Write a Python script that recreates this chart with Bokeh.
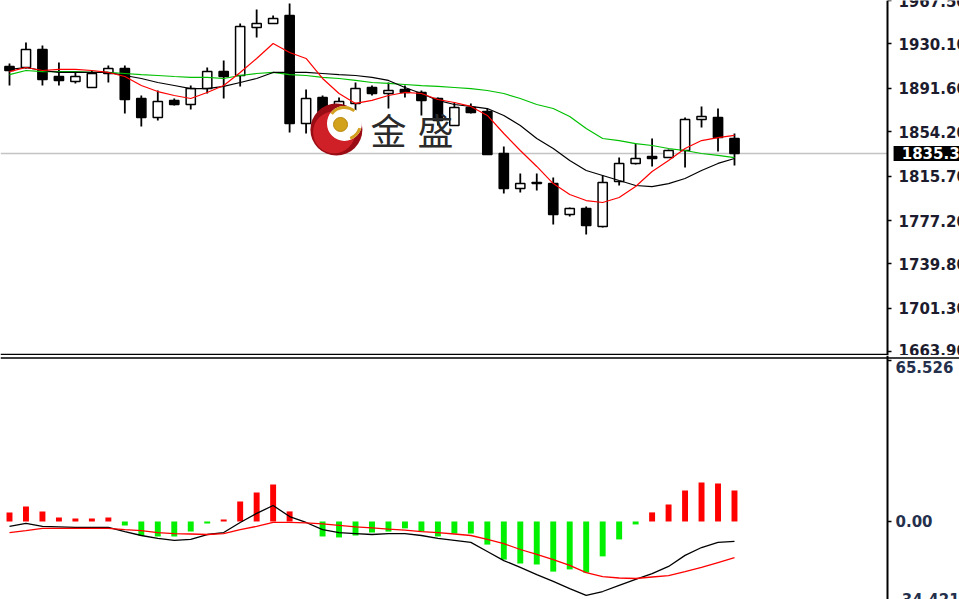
from bokeh.plotting import figure
from bokeh.layouts import column
from bokeh.models import (Range1d, FixedTicker, CustomJSTickFormatter,
                          Span, Label, ColumnDataSource)
from bokeh.core.properties import value
from bokeh.embed import file_html
from bokeh.resources import INLINE

# ---------------- data ----------------
opens = [1910.5, 1909.6, 1925.2, 1901.8, 1897.5, 1892.3, 1904.4, 1908.7, 1882.8, 1866.3,
         1881.1, 1877.6, 1891.4, 1906.1, 1902.7, 1944.2, 1947.7, 1954.6, 1861.2, 1883.7,
         1859.4, 1878.5, 1892.3, 1887.1, 1890.6, 1888.0, 1882.8, 1859.4, 1875.0, 1871.5,
         1835.2, 1804.9, 1809.2, 1809.2, 1782.4, 1787.6, 1772.0, 1811.0, 1826.6, 1832.6,
         1831.7, 1837.8, 1864.6, 1866.3, 1848.2]
highs = [1913.1, 1931.2, 1928.6, 1913.9, 1905.3, 1907.0, 1911.3, 1911.3, 1885.4, 1889.7,
         1882.8, 1894.0, 1909.6, 1915.7, 1947.7, 1959.8, 1954.6, 1965.0, 1890.6, 1885.4,
         1883.7, 1896.6, 1894.0, 1896.6, 1894.0, 1889.7, 1883.7, 1879.3, 1878.5, 1874.1,
         1841.3, 1817.9, 1817.9, 1814.4, 1788.5, 1789.4, 1816.2, 1831.7, 1843.8, 1848.2,
         1838.7, 1866.3, 1875.9, 1874.1, 1852.5]
lows = [1894.0, 1908.7, 1894.0, 1894.0, 1895.8, 1892.3, 1896.6, 1869.8, 1858.6, 1863.7,
        1876.7, 1873.3, 1887.1, 1882.8, 1893.2, 1935.6, 1947.7, 1853.4, 1852.5, 1856.8,
        1855.1, 1872.4, 1885.4, 1874.1, 1883.7, 1868.1, 1859.4, 1859.4, 1869.8, 1834.3,
        1800.6, 1801.5, 1803.2, 1773.8, 1780.7, 1765.1, 1771.2, 1807.5, 1825.7, 1824.0,
        1831.7, 1823.1, 1857.7, 1836.9, 1824.8]
closes = [1907.0, 1925.2, 1899.2, 1898.4, 1901.8, 1904.4, 1908.7, 1881.9, 1866.3, 1880.2,
          1877.6, 1891.4, 1906.1, 1901.8, 1945.1, 1947.7, 1952.0, 1861.2, 1882.8, 1865.5,
          1880.2, 1891.4, 1887.1, 1889.7, 1888.0, 1881.1, 1863.7, 1875.0, 1870.7, 1834.3,
          1804.9, 1809.2, 1810.1, 1782.4, 1787.6, 1772.9, 1810.1, 1826.6, 1830.9, 1830.9,
          1837.8, 1864.6, 1867.2, 1849.0, 1835.3]

ma_red = [1906.1, 1909.6, 1907.0, 1907.9, 1907.9, 1907.0, 1905.3, 1901.8, 1894.0, 1888.8,
          1885.4, 1882.8, 1888.0, 1894.0, 1905.3, 1917.4, 1930.4, 1922.6, 1917.4, 1900.1,
          1887.1, 1878.5, 1881.1, 1885.4, 1888.0, 1887.1, 1881.9, 1879.3, 1875.9, 1868.1,
          1852.5, 1837.8, 1824.0, 1809.2, 1799.7, 1794.5, 1792.8, 1797.1, 1806.6, 1819.6,
          1829.1, 1839.5, 1846.4, 1849.0, 1850.8]
ma_black = [1907.9, 1909.6, 1907.0, 1905.3, 1905.3, 1905.3, 1905.3, 1902.7, 1900.1, 1896.6,
            1894.0, 1891.4, 1891.4, 1893.2, 1896.6, 1900.1, 1905.3, 1905.3, 1905.3, 1904.4,
            1903.5, 1902.7, 1901.0, 1898.4, 1892.3, 1887.1, 1881.1, 1877.6, 1875.9, 1874.1,
            1868.1, 1859.4, 1848.2, 1839.5, 1829.1, 1820.5, 1816.2, 1811.8, 1807.5, 1806.6,
            1809.2, 1813.6, 1820.5, 1826.6, 1830.9]
ma_green = [1903.5, 1907.0, 1906.1, 1906.1, 1906.1, 1905.3, 1905.3, 1904.4, 1903.5, 1902.7,
            1901.8, 1901.0, 1901.0, 1900.1, 1902.7, 1904.4, 1905.3, 1903.5, 1902.7, 1901.0,
            1900.1, 1898.4, 1896.6, 1895.8, 1894.9, 1894.0, 1893.2, 1892.3, 1891.4, 1889.7,
            1887.1, 1882.8, 1877.6, 1874.1, 1867.2, 1856.8, 1848.2, 1846.4, 1843.8, 1842.1,
            1839.5, 1837.8, 1835.2, 1833.5, 1831.7]

macd_hist = [3.7, 6.1, 4.1, 1.6, 1.2, 1.2, 1.6, -1.6, -5.7, -6.1,
             -6.1, -4.1, -0.8, 0.8, 8.1, 11.8, 15.1, 4.1, 0.0, -6.1,
             -6.5, -5.7, -4.5, -4.1, -2.8, -4.1, -6.1, -4.9, -4.9, -9.4,
             -15.5, -17.1, -17.5, -20.4, -19.5, -20.8, -14.2, -7.3, -1.2, 3.7,
             6.9, 12.6, 15.9, 15.5, 12.6]
macd_main = [-2.0, -0.8, -2.0, -2.2, -2.4, -2.4, -2.4, -4.1, -5.7, -6.9,
             -7.7, -7.3, -5.3, -4.5, -0.4, 3.3, 6.5, 2.0, -0.4, -3.3,
             -4.5, -4.9, -5.3, -4.9, -4.9, -5.7, -6.9, -7.7, -8.5, -12.2,
             -15.9, -18.7, -21.6, -24.4, -27.3, -30.1, -28.5, -26.0, -23.6, -21.2,
             -18.3, -13.8, -10.6, -8.5, -8.1]
macd_signal = [-4.5, -3.7, -2.8, -2.8, -2.8, -2.8, -2.8, -3.3, -3.7, -4.5,
               -4.9, -5.1, -5.3, -4.9, -3.3, -2.0, -0.4, -0.4, -0.6, -1.0,
               -1.6, -2.2, -2.6, -3.1, -3.5, -4.1, -4.5, -5.1, -5.7, -7.3,
               -9.0, -11.4, -13.4, -15.5, -17.9, -20.8, -22.4, -23.0, -23.2, -22.6,
               -22.0, -20.4, -18.7, -16.7, -14.7]

price_ticks = [1967.50, 1930.10, 1891.60, 1854.20, 1815.70, 1777.20, 1739.80, 1701.30, 1663.90]
price_top = 1967.50            # top scale value (label drawn at the panel edge)
macd_max = 65.526
macd_ticks = [macd_max, 0.0]
macd_min = -34.421
last_price = 1835.30
last_price_label = "1835.30"
watermark = ["金", "盛"]

# ---------------- layout constants ----------------
n = len(opens)
idx = list(range(n))
X_RANGE = (-0.546, 57.656)      # frame spans the whole page width
AXIS_X = 53.29                  # where the price scale sits
MAIN_LABEL_X = 53.95
MACD_LABEL_X = 53.77
TAG_CENTER_X = 55.84
TAG_TEXT_X = 54.15
FRAME_W = 959
AX_FONT = "DejaVu Sans"
AX_SIZE = "15px"
MAIN_COLOR = "#1c1c2e"
MACD_COLOR = "#24304c"


def style_axis(fig, ticks, formatter, color, standoff):
    ax = fig.yaxis[0]
    ax.fixed_location = AXIS_X
    ax.ticker = FixedTicker(ticks=ticks)
    ax.formatter = formatter
    ax.axis_line_color = "black"
    ax.axis_line_width = 2
    ax.major_tick_line_color = "black"
    ax.major_tick_line_width = 1.5
    ax.major_tick_out = 4
    ax.major_tick_in = 0
    ax.minor_tick_line_color = None
    ax.major_label_standoff = standoff
    ax.major_label_text_font = AX_FONT
    ax.major_label_text_font_size = AX_SIZE
    ax.major_label_text_font_style = "bold"
    ax.major_label_text_color = color
    fig.grid.visible = False


def edge_text(fig, x, y, txt, dy, color):
    fig.text(x=[x], y=[y], text=[txt], y_offset=dy, text_align="left", text_baseline="middle",
             text_font=value(AX_FONT), text_font_size=AX_SIZE, text_font_style="bold",
             text_color=color)


# ---------------- main price panel ----------------
p = figure(frame_width=FRAME_W, frame_height=355,
           x_range=Range1d(*X_RANGE), y_range=Range1d(1660.45, 1967.56),
           x_axis_location=None, y_axis_location="right",
           toolbar_location=None, output_backend="svg",
           min_border_left=0, min_border_right=0, min_border_top=0, min_border_bottom=0,
           outline_line_color=None, background_fill_color="white", border_fill_color="white")
style_axis(p, price_ticks,
           CustomJSTickFormatter(code="return tick > 1960 ? '' : tick.toFixed(2);"),
           MAIN_COLOR, 7)

# bid line and panel bottom border (stop at the price scale)
p.segment(x0=[X_RANGE[0]], y0=[last_price], x1=[AXIS_X], y1=[last_price],
          line_color="#c4c4c4", line_width=1.5, level="underlay")
p.segment(x0=[X_RANGE[0]], y0=[1661.3], x1=[AXIS_X], y1=[1661.3],
          line_color="black", line_width=1.5)

bull = [c >= o for o, c in zip(opens, closes)]
src = ColumnDataSource(dict(
    x=idx, high=highs, low=lows,
    top=[max(o, c) for o, c in zip(opens, closes)],
    bottom=[min(o, c) for o, c in zip(opens, closes)],
    fill=["white" if b else "black" for b in bull],
))
p.segment(x0="x", y0="high", x1="x", y1="low", source=src, line_color="black", line_width=1.8)
p.vbar(x="x", top="top", bottom="bottom", width=0.56, source=src,
       fill_color="fill", line_color="black", line_width=1.5)

p.line(idx, ma_green, line_color="#00c000", line_width=1.2)
p.line(idx, ma_black, line_color="black", line_width=1.2)
p.line(idx, ma_red, line_color="#ff0000", line_width=1.2)

# watermark logo (decoration)
p.scatter(x=[19.84], y=[1855.9], size=52, marker="circle", fill_color="#9a0c14", line_color=None)
p.scatter(x=[19.7], y=[1853.5], size=42, marker="circle", fill_color="#cf2027", line_color=None)
p.scatter(x=[20.33], y=[1861.2], size=35, marker="circle", fill_color="white", line_color=None)
p.arc(x=[20.33], y=[1861.2], radius=16, radius_units="screen", start_angle=0.9, end_angle=2.5,
      line_color="#d4a020", line_width=3)
p.arc(x=[20.33], y=[1861.2], radius=16, radius_units="screen", start_angle=-1.2, end_angle=-0.3,
      line_color="#d4a020", line_width=3)
p.scatter(x=[20.09], y=[1860.3], size=14, marker="circle", fill_color="#d2a21c", line_color="#b8860b")
p.add_layout(Label(x=23.0, y=1856.2, text=watermark[0], text_align="center", text_baseline="middle",
                   text_font="Noto Sans CJK SC", text_font_size="36px", text_color="#2a2a2a"))
p.add_layout(Label(x=25.85, y=1856.2, text=watermark[1], text_align="center", text_baseline="middle",
                   text_font="Noto Sans CJK SC", text_font_size="36px", text_color="#2a2a2a"))

# top scale value, half hidden by the panel edge as in the terminal
edge_text(p, MAIN_LABEL_X, price_top, "%.2f" % price_top, 0, MAIN_COLOR)

# current price tag on the price scale
p.rect(x=[TAG_CENTER_X], y=[last_price], width=72, height=15, width_units="screen",
       height_units="screen", fill_color="black", line_color=None)
edge_text(p, TAG_TEXT_X, last_price, last_price_label, 0, "white")

# ---------------- MACD panel ----------------
q = figure(frame_width=FRAME_W, frame_height=244,
           x_range=p.x_range, y_range=Range1d(-31.75, 67.56),
           x_axis_location=None, y_axis_location="right",
           toolbar_location=None, output_backend="svg",
           min_border_left=0, min_border_right=0, min_border_top=0, min_border_bottom=0,
           outline_line_color=None, background_fill_color="white", border_fill_color="white")
style_axis(q, macd_ticks,
           CustomJSTickFormatter(code="return tick === 0 ? '0.00' : '';"),
           MACD_COLOR, 4)

hsrc = ColumnDataSource(dict(x=idx, top=macd_hist,
                             c=["#ff0000" if v > 0 else "#00f000" for v in macd_hist]))
q.vbar(x="x", top="top", bottom=0, width=0.36, source=hsrc, fill_color="c", line_color=None)
q.line(idx, macd_main, line_color="black", line_width=1.3)
q.line(idx, macd_signal, line_color="#ff0000", line_width=1.3)

q.add_layout(Span(location=66.5, dimension="width", line_color="black", line_width=1.5))
# panel max / min values are printed just inside the panel edges
edge_text(q, MACD_LABEL_X, macd_max, "%.3f" % macd_max, 7, MACD_COLOR)
edge_text(q, MACD_LABEL_X, macd_min, "%.3f" % macd_min, -7, MACD_COLOR)

layout = column(p, q, spacing=0)
open("out.html", "w").write(file_html(layout, INLINE))
